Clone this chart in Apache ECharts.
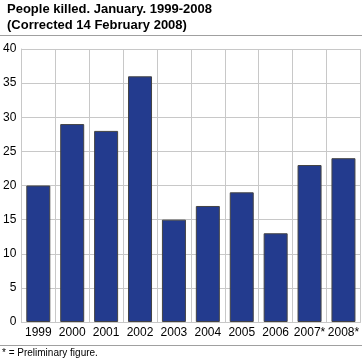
<!DOCTYPE html>
<html><head><meta charset="utf-8">
<script src="https://cdn.jsdelivr.net/npm/echarts@6/dist/echarts.min.js"></script>
<style>html,body{margin:0;padding:0;background:#fff}#c{width:362px;height:362px}</style>
</head><body><div id="c"></div>
<script>
var categories = ['1999','2000','2001','2002','2003','2004','2005','2006','2007*','2008*'];
var killed = [20, 29, 28, 36, 15, 17, 19, 13, 23, 24];
var yTicks = [0, 5, 10, 15, 20, 25, 30, 35, 40];

var chart = echarts.init(document.getElementById('c'), null, {renderer:'canvas'});
var font = 'Liberation Sans, Arial, sans-serif';
chart.setOption({
  animation: false,
  textStyle: {fontFamily: font},
  title: {
    text: 'People killed. January. 1999-2008\n(Corrected 14 February 2008)',
    left: 2, top: -4,
    textStyle: {fontSize: 13, fontWeight: 'bold', color: '#000', lineHeight: 16, fontFamily: font}
  },
  graphic: [
    {type:'line', shape:{x1:0,y1:35.5,x2:362,y2:35.5}, style:{stroke:'#a0a0a0', lineWidth:1}},
    {type:'line', shape:{x1:0,y1:345.5,x2:362,y2:345.5}, style:{stroke:'#a0a0a0', lineWidth:1}},
    {type:'text', left: 2, top: 348, style:{text:'* = Preliminary figure.', fontSize: 10, fill:'#000', fontFamily: font}}
  ],
  grid: {left: 19, right: 1, top: 49, bottom: 40, containLabel: false},
  xAxis: {
    type: 'category', data: categories,
    axisLine: {show: true, lineStyle: {color: '#c8c8c8'}},
    axisTick: {show: false},
    splitLine: {show: true, lineStyle: {color: '#c8c8c8'}},
    axisLabel: {color: '#000', fontSize: 12, margin: 5, interval: 0, fontFamily: font}
  },
  yAxis: {
    type: 'value', min: 0, max: 40, interval: 5,
    axisLine: {show: true, lineStyle: {color: '#c8c8c8'}},
    axisTick: {show: false},
    splitLine: {show: true, lineStyle: {color: '#c8c8c8'}},
    axisLabel: {color: '#000', fontSize: 12, margin: 5, fontFamily: font,
      formatter: function(v){ return yTicks.indexOf(v) >= 0 ? String(v) : ''; }}
  },
  series: [{
    type: 'bar', data: killed, barWidth: 24,
    itemStyle: {color: '#233b8e', borderColor: '#444', borderWidth: 1}
  }]
});
</script></body></html>
